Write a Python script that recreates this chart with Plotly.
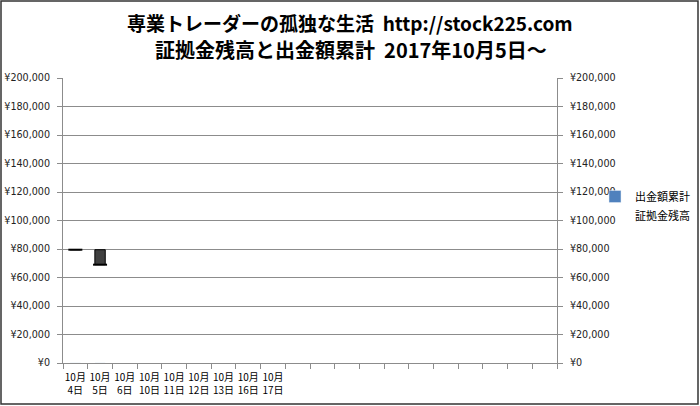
import plotly.graph_objects as go

# ---- data ----
date_labels = ["10月<br>4日", "10月<br>5日", "10月<br>6日", "10月<br>10日", "10月<br>11日",
               "10月<br>12日", "10月<br>13日", "10月<br>16日", "10月<br>17日"]
n_slots = 20
categories = [f"c{i}" for i in range(n_slots)]
tick_text = date_labels + [""] * (n_slots - len(date_labels))

bar_days = ["c0", "c1"]
open_vals = [79500, 79500]     # 証拠金残高 (前日)
close_vals = [79500, 69000]    # 証拠金残高
withdraw_cum = [0, 0]          # 出金額累計

y_ticks = [0, 20000, 40000, 60000, 80000, 100000, 120000, 140000, 160000, 180000, 200000]
y_tick_labels = ["¥0", "¥20,000", "¥40,000", "¥60,000", "¥80,000", "¥100,000",
                 "¥120,000", "¥140,000", "¥160,000", "¥180,000", "¥200,000"]

# ---- layout geometry ----
W, H = 700, 406
ML, MR, MT, MB = 63, 143, 78, 43
PW, PH = W - ML - MR, H - MT - MB

def px_x(x):
    return (x - ML) / PW

def px_y(y):
    return (H - MB - y) / PH

JP = "Noto Sans CJK JP"
GRID = "#8c8c8c"

base = [min(o, c) for o, c in zip(open_vals, close_vals)]
height = [abs(c - o) for o, c in zip(open_vals, close_vals)]

fig = go.Figure()

fig.add_trace(go.Bar(
    x=bar_days, y=height, base=base, width=0.42,
    marker=dict(color="#404040", line=dict(color="#000000", width=1)),
    showlegend=False, hoverinfo="skip"))

fig.add_trace(go.Scatter(
    x=bar_days, y=close_vals, mode="markers",
    marker=dict(symbol="line-ew", size=10, line=dict(color="#000000", width=2)),
    showlegend=False, hoverinfo="skip"))

fig.add_trace(go.Bar(
    x=bar_days, y=withdraw_cum, name="出金額累計", yaxis="y2",
    marker=dict(color="#4F81BD"), width=0.42))

fig.add_trace(go.Scatter(
    x=bar_days, y=close_vals, name="証拠金残高", mode="lines",
    line=dict(width=0, color="rgba(0,0,0,0)"), hoverinfo="skip"))

yaxis_common = dict(
    range=[0, 200000], tickvals=y_ticks, ticktext=y_tick_labels,
    ticks="outside", ticklen=5, tickcolor=GRID, ticklabelstandoff=5,
    showline=True, linecolor=GRID, linewidth=1,
    tickfont=dict(family="DejaVu Sans", size=9.6, color="#222222"),
    zeroline=False, fixedrange=True, automargin=False)

fig.update_layout(
    width=W, height=H, autosize=False,
    margin=dict(l=ML, r=MR, t=MT, b=MB, autoexpand=False),
    paper_bgcolor="white", plot_bgcolor="white",
    barmode="overlay",
    font=dict(family=JP, color="#000000"),
    xaxis=dict(
        type="category", categoryorder="array", categoryarray=categories,
        range=[-0.5, n_slots - 0.5],
        tickvals=categories, ticktext=tick_text, tickson="boundaries",
        ticks="outside", ticklen=5, tickcolor=GRID, ticklabelstandoff=5,
        showline=True, linecolor=GRID, showgrid=False,
        tickfont=dict(family=JP, size=10, color="#000000"),
        tickangle=0, fixedrange=True, automargin=False),
    yaxis=dict(**yaxis_common, showgrid=True, gridcolor=GRID, gridwidth=1),
    yaxis2=dict(**yaxis_common, overlaying="y", side="right", showgrid=False),
    legend=dict(
        x=px_x(595), y=px_y(182), xanchor="left", yanchor="top",
        font=dict(family=JP, size=11, color="#000000"),
        bgcolor="rgba(0,0,0,0)", tracegroupgap=2),
    showlegend=True,
    annotations=[
        dict(text="<b>専業トレーダーの孤独な生活  http://stock225.com</b>",
             xref="paper", yref="paper", x=px_x(350), y=px_y(22),
             xanchor="center", yanchor="middle", showarrow=False,
             font=dict(family=JP, size=19, color="#000000")),
        dict(text="<b>証拠金残高と出金額累計  2017年10月5日～</b>",
             xref="paper", yref="paper", x=px_x(351), y=px_y(50),
             xanchor="center", yanchor="middle", showarrow=False,
             font=dict(family=JP, size=20, color="#000000")),
    ],
    shapes=[dict(type="rect", xref="paper", yref="paper",
                 x0=px_x(1), x1=px_x(698), y0=px_y(404), y1=px_y(1),
                 line=dict(color="#333333", width=1.5), layer="above")],
)

fig.write_html(
    "out.html",
    config={"displayModeBar": False, "responsive": False},
    post_script=("document.body.style.margin='0';"
                 "document.body.style.overflow='hidden';"
                 "document.documentElement.style.overflow='hidden';"))
